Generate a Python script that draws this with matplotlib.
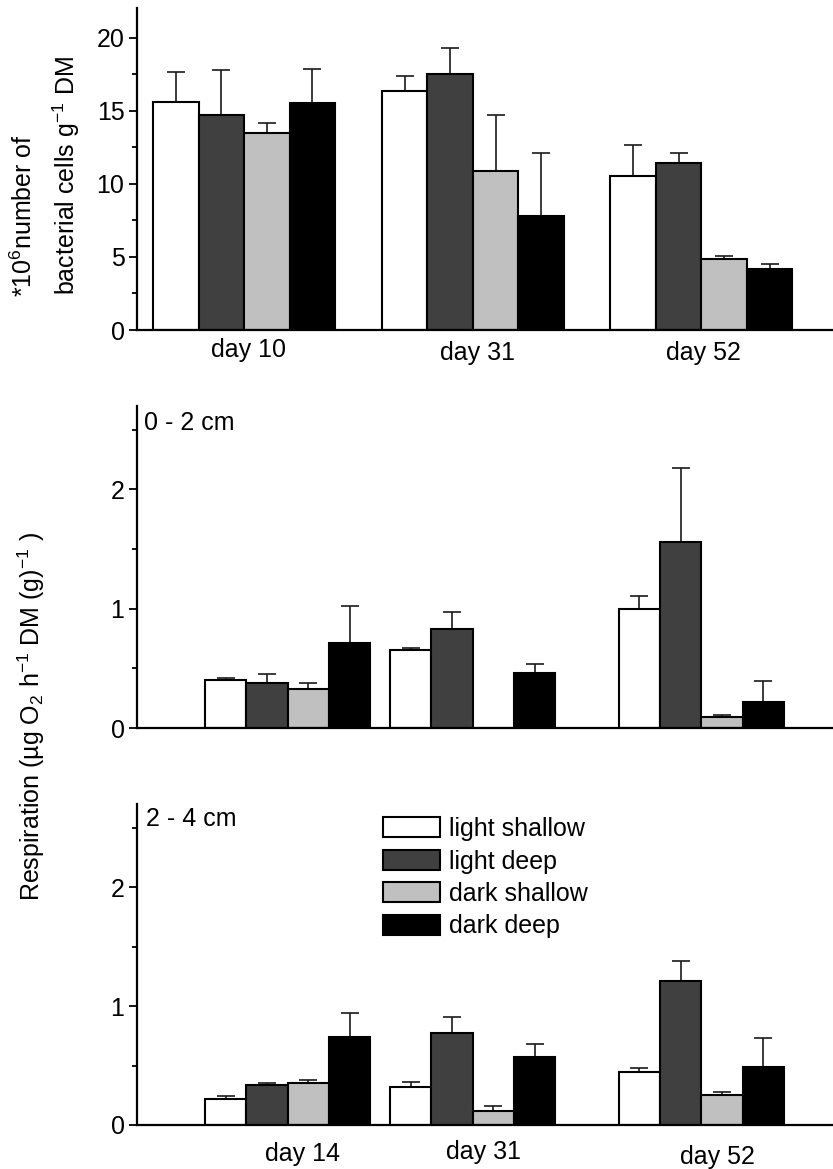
import numpy as np
import matplotlib
matplotlib.use('Agg')
import matplotlib.pyplot as plt
from matplotlib.ticker import MultipleLocator

#======================================================================================
# data
#======================================================================================
treatments = ['light shallow', 'light deep', 'dark shallow', 'dark deep']

# bacterial cell counts (*10^6 g-1 DM), rows = treatments, columns = days
cell_days = [10, 31, 52]
cell_mean = [[15.6, 16.4, 10.55],
             [14.7, 17.5, 11.45],
             [13.5, 10.9, 4.85],
             [15.55, 7.8, 4.2]]
cell_err = [[2.1, 1.0, 2.15],
            [3.1, 1.8, 0.65],
            [0.7, 3.8, 0.2],
            [2.35, 4.3, 0.3]]

# respiration (ug O2 h-1 DM (g)-1)
resp_days = [14, 31, 52]
resp02_mean = [[0.40, 0.655, 1.00],
               [0.38, 0.83, 1.56],
               [0.33, 0.0, 0.09],
               [0.71, 0.46, 0.215]]
resp02_err = [[0.02, 0.015, 0.11],
              [0.07, 0.14, 0.62],
              [0.045, 0.0, 0.017],
              [0.31, 0.08, 0.175]]
resp24_mean = [[0.22, 0.32, 0.445],
               [0.34, 0.77, 1.21],
               [0.35, 0.12, 0.25],
               [0.74, 0.57, 0.49]]
resp24_err = [[0.02, 0.04, 0.035],
              [0.01, 0.14, 0.17],
              [0.03, 0.04, 0.03],
              [0.20, 0.11, 0.24]]

#======================================================================================
# style
#======================================================================================
plt.rcParams['font.family'] = ['Liberation Sans', 'DejaVu Sans']
plt.rcParams['mathtext.fontset'] = 'custom'
plt.rcParams['mathtext.rm'] = 'Liberation Sans'
plt.rcParams['mathtext.it'] = 'Liberation Sans:italic'
plt.rcParams['mathtext.default'] = 'regular'
plt.rcParams['font.size'] = 18

bar_colors = ['white', '#404040', '#c0c0c0', 'black']

W, H = 833, 1169
def fx(x): return x / W
def fy(y): return 1 - y / H

fig = plt.figure(figsize=(W / 100, H / 100), dpi=100)


def draw_panel(top, bottom, days, means, errs, width, ymax, major, minor):
    ax = fig.add_axes([fx(137), fy(bottom), 696 / W, (bottom - top) / H])
    for i in range(4):
        x = np.array(days) + (i - 1.5) * width
        ax.bar(x, means[i], width, color=bar_colors[i], edgecolor='black',
               linewidth=1.5, label=treatments[i], zorder=2)
        ax.errorbar(x, means[i], yerr=[np.zeros(len(days)), errs[i]], fmt='none',
                    ecolor='#1a1a1a', elinewidth=1.2, capsize=6.5, capthick=1.2, zorder=1)
    ax.set_xlim(0.15, 64.1)
    ax.set_ylim(0, ymax)
    ax.spines['top'].set_visible(False)
    ax.spines['right'].set_visible(False)
    ax.spines['left'].set_linewidth(1.6)
    ax.spines['bottom'].set_linewidth(1.6)
    ax.yaxis.set_major_locator(MultipleLocator(major))
    ax.yaxis.set_minor_locator(MultipleLocator(minor))
    ax.tick_params(axis='y', which='major', direction='out', length=6, width=1.3, pad=3)
    ax.tick_params(axis='y', which='minor', direction='out', length=3.5, width=1.3)
    ax.set_xticks([])
    return ax


def day_labels(ax, days, offsets):
    for d, (dx, dy) in zip(days, offsets):
        ax.annotate(f'day {d}', xy=(d, 0), xytext=(dx, -dy), textcoords='offset pixels',
                    ha='center', va='center')


# top: bacterial cells
ax1 = draw_panel(8, 330, cell_days, cell_mean, cell_err, 4.18, 22.05, 5, 2.5)
day_labels(ax1, cell_days, [(4, 20), (4.5, 23), (2, 23)])
fig.text(fx(24), fy(297), '*10$^6$number of', rotation=90, ha='center', va='bottom')
fig.text(fx(66), fy(295), 'bacterial cells g$^{-1}$ DM', rotation=90, ha='center', va='bottom')

# middle: respiration 0 - 2 cm
ax2 = draw_panel(406, 728, resp_days, resp02_mean, resp02_err, 3.8, 2.7, 1, 0.5)
ax2.text(7 / 696, 1 - 17 / 322, '0 - 2 cm', transform=ax2.transAxes, ha='left', va='center')

# bottom: respiration 2 - 4 cm
ax3 = draw_panel(804, 1125, resp_days, resp24_mean, resp24_err, 3.8, 2.7, 1, 0.5)
ax3.text(9 / 696, 1 - 15 / 321, '2 - 4 cm', transform=ax3.transAxes, ha='left', va='center')
day_labels(ax3, resp_days, [(15, 29), (11, 27), (16, 32)])
ax3.legend(loc='upper left', bbox_to_anchor=(fx(383), fy(817)), bbox_transform=fig.transFigure,
           frameon=False, borderpad=0, borderaxespad=0, handlelength=2.28, handleheight=0.86,
           handletextpad=0.36, labelspacing=0.34, fontsize=18)

fig.text(fx(31), fy(717), 'Respiration (µg O$_2$ h$^{-1}$ DM (g)$^{-1}$ )', rotation=90,
         ha='center', va='center')

fig.savefig('out.png', dpi=100)
